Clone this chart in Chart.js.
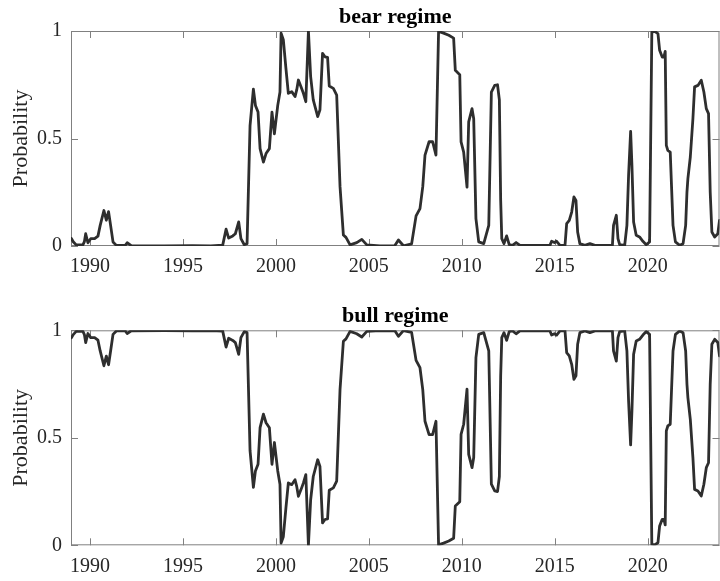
<!DOCTYPE html>
<html>
<head>
<meta charset="utf-8">
<title>Regime probabilities</title>
<script src="https://cdn.jsdelivr.net/npm/chart.js@4.4.0/dist/chart.umd.min.js"></script>
<style>
  html, body { margin: 0; padding: 0; background: #fff; }
  #wrap { position: relative; width: 720px; height: 581px; }
  canvas { position: absolute; left: 0; }
</style>
</head>
<body>
<div id="wrap">
  <canvas id="bearChart" width="720" height="290" style="top:0"></canvas>
  <canvas id="bullChart" width="720" height="291" style="top:290px"></canvas>
</div>
<script>
// --- data (decimal years) ---
const years = [
  1989.00, 1989.10, 1989.26, 1989.62, 1989.70, 1989.77, 1989.89, 1990.04, 1990.25, 1990.43,
  1990.55, 1990.75, 1990.88, 1991.00, 1991.11, 1991.24, 1991.42, 1991.90, 1992.00, 1992.22,
  1994.00, 1995.50, 1996.50, 1997.14, 1997.32, 1997.46, 1997.68, 1997.82, 1998.00, 1998.12,
  1998.30, 1998.45, 1998.61, 1998.79, 1998.90, 1999.04, 1999.15, 1999.33, 1999.47, 1999.65,
  1999.79, 1999.92, 2000.10, 2000.22, 2000.28, 2000.40, 2000.54, 2000.67, 2000.85, 2001.03,
  2001.12, 2001.21, 2001.35, 2001.48, 2001.61, 2001.75, 2001.87, 2002.01, 2002.25, 2002.37,
  2002.51, 2002.64, 2002.78, 2002.87, 2003.09, 2003.27, 2003.45, 2003.63, 2003.77, 2003.99,
  2004.35, 2004.62, 2004.89, 2005.60, 2006.40, 2006.59, 2006.86, 2007.30, 2007.54, 2007.75,
  2007.90, 2008.02, 2008.24, 2008.43, 2008.61, 2008.75, 2009.02, 2009.30, 2009.56, 2009.65,
  2009.89, 2009.96, 2010.10, 2010.28, 2010.37, 2010.55, 2010.64, 2010.76, 2010.91, 2011.18,
  2011.45, 2011.59, 2011.77, 2011.92, 2012.02, 2012.09, 2012.15, 2012.27, 2012.41, 2012.55,
  2012.73, 2012.92, 2013.13, 2014.74, 2014.83, 2014.98, 2015.10, 2015.28, 2015.55, 2015.64,
  2015.78, 2015.91, 2016.03, 2016.14, 2016.23, 2016.35, 2016.62, 2016.89, 2017.16, 2018.10,
  2018.16, 2018.31, 2018.40, 2018.49, 2018.76, 2018.88, 2018.97, 2019.08, 2019.15, 2019.24,
  2019.38, 2019.56, 2019.74, 2019.92, 2020.10, 2020.22, 2020.37, 2020.55, 2020.64, 2020.78,
  2020.87, 2020.94, 2021.00, 2021.08, 2021.21, 2021.36, 2021.49, 2021.72, 2021.90, 2022.04,
  2022.11, 2022.16, 2022.29, 2022.43, 2022.52, 2022.70, 2022.88, 2023.02, 2023.15, 2023.27,
  2023.36, 2023.45, 2023.60, 2023.77, 2023.86
];

const bearProb = [
  0.035, 0.02, 0.005, 0.005, 0.02, 0.057, 0.015, 0.034, 0.034, 0.046,
  0.096, 0.165, 0.12, 0.16, 0.096, 0.019, 0.003, 0.003, 0.015, 0.002,
  0.001, 0.002, 0.001, 0.004, 0.078, 0.037, 0.047, 0.057, 0.112, 0.034,
  0.006, 0.011, 0.56, 0.73, 0.654, 0.623, 0.453, 0.39, 0.43, 0.453,
  0.623, 0.522, 0.654, 0.716, 0.99, 0.96, 0.826, 0.71, 0.718, 0.695,
  0.726, 0.772, 0.741, 0.71, 0.671, 1.0, 0.788, 0.68, 0.602, 0.633,
  0.896, 0.88, 0.877, 0.744, 0.733, 0.702, 0.276, 0.051, 0.040, 0.005,
  0.016, 0.031, 0.005, 0.001, 0.002, 0.028, 0.001, 0.01, 0.14, 0.174,
  0.276, 0.423, 0.485, 0.485, 0.423, 0.998, 0.99, 0.98, 0.967, 0.817,
  0.797, 0.484, 0.437, 0.274, 0.577, 0.639, 0.592, 0.127, 0.019, 0.011,
  0.096, 0.716, 0.747, 0.75, 0.68, 0.214, 0.034, 0.011, 0.047, 0.006,
  0.003, 0.016, 0.003, 0.003, 0.022, 0.016, 0.022, 0.003, 0.003, 0.104,
  0.119, 0.158, 0.228, 0.212, 0.065, 0.011, 0.003, 0.011, 0.003, 0.003,
  0.096, 0.143, 0.034, 0.006, 0.003, 0.096, 0.329, 0.533, 0.375, 0.112,
  0.05, 0.042, 0.022, 0.006, 0.019, 0.995, 0.998, 0.988, 0.91, 0.879,
  0.879, 0.905, 0.468, 0.445, 0.437, 0.096, 0.019, 0.003, 0.011, 0.096,
  0.251, 0.313, 0.414, 0.592, 0.74, 0.747, 0.771, 0.716, 0.639, 0.616,
  0.251, 0.065, 0.042, 0.057, 0.119
];

const bullProb = [
  0.965, 0.98, 0.995, 0.995, 0.98, 0.943, 0.985, 0.966, 0.966, 0.954,
  0.904, 0.835, 0.88, 0.84, 0.904, 0.981, 0.997, 0.997, 0.985, 0.998,
  0.999, 0.998, 0.999, 0.996, 0.922, 0.963, 0.953, 0.943, 0.888, 0.966,
  0.994, 0.989, 0.44, 0.27, 0.346, 0.377, 0.547, 0.61, 0.57, 0.547,
  0.377, 0.478, 0.346, 0.284, 0.01, 0.04, 0.174, 0.29, 0.282, 0.305,
  0.274, 0.228, 0.259, 0.29, 0.329, 0.0, 0.212, 0.32, 0.398, 0.367,
  0.104, 0.12, 0.123, 0.256, 0.267, 0.298, 0.724, 0.949, 0.96, 0.995,
  0.984, 0.969, 0.995, 0.999, 0.998, 0.972, 0.999, 0.99, 0.86, 0.826,
  0.724, 0.577, 0.515, 0.515, 0.577, 0.002, 0.01, 0.02, 0.033, 0.183,
  0.203, 0.516, 0.563, 0.726, 0.423, 0.361, 0.408, 0.873, 0.981, 0.989,
  0.904, 0.284, 0.253, 0.25, 0.32, 0.786, 0.966, 0.989, 0.953, 0.994,
  0.997, 0.984, 0.997, 0.997, 0.978, 0.984, 0.978, 0.997, 0.997, 0.896,
  0.881, 0.842, 0.772, 0.788, 0.935, 0.989, 0.997, 0.989, 0.997, 0.997,
  0.904, 0.857, 0.966, 0.994, 0.997, 0.904, 0.671, 0.467, 0.625, 0.888,
  0.95, 0.958, 0.978, 0.994, 0.981, 0.005, 0.002, 0.012, 0.09, 0.121,
  0.121, 0.095, 0.532, 0.555, 0.563, 0.904, 0.981, 0.997, 0.989, 0.904,
  0.749, 0.687, 0.586, 0.408, 0.26, 0.253, 0.229, 0.284, 0.361, 0.384,
  0.749, 0.935, 0.958, 0.943, 0.881
];

const xTicks = [1990, 1995, 2000, 2005, 2010, 2015, 2020];
const yTicks = [0, 0.5, 1];
const X_MIN = 1988.98;
const X_MAX = 2023.86;

const SERIF = '"Liberation Serif", "Times New Roman", serif';
const AXIS_GREY = '#808080';
const TEXT = '#262626';
const LINE = '#2e2e2e';
const TICK_LEN = 7;

// MATLAB style frame: box, inward ticks on all four sides, title, y label
const matlabAxes = {
  id: 'matlabAxes',
  beforeDatasetsDraw(chart) {
    const { ctx, chartArea: a, scales: { x, y } } = chart;
    ctx.save();
    ctx.strokeStyle = AXIS_GREY;
    ctx.lineWidth = 1;
    ctx.strokeRect(a.left + 0.5, a.top + 0.5, a.right - a.left - 1, a.bottom - a.top - 1);
    ctx.beginPath();
    xTicks.forEach(v => {
      const px = Math.round(x.getPixelForValue(v)) + 0.5;
      ctx.moveTo(px, a.bottom);
      ctx.lineTo(px, a.bottom - TICK_LEN);
      ctx.moveTo(px, a.top);
      ctx.lineTo(px, a.top + TICK_LEN);
    });
    yTicks.forEach(v => {
      const py = Math.round(y.getPixelForValue(v)) + 0.5;
      ctx.moveTo(a.left, py);
      ctx.lineTo(a.left + TICK_LEN, py);
      ctx.moveTo(a.right, py);
      ctx.lineTo(a.right - TICK_LEN, py);
    });
    ctx.stroke();
    ctx.restore();
  },
  afterDraw(chart, args, opts) {
    const { ctx, chartArea: a } = chart;
    ctx.save();
    ctx.fillStyle = '#000';
    ctx.font = 'bold 22px ' + SERIF;
    ctx.textAlign = 'center';
    ctx.textBaseline = 'alphabetic';
    ctx.fillText(opts.title, (a.left + a.right) / 2, a.top - 8.3);

    ctx.fillStyle = TEXT;
    ctx.font = '22px ' + SERIF;
    ctx.translate(26.5, (a.top + a.bottom) / 2);
    ctx.rotate(-Math.PI / 2);
    ctx.fillText('Probability', 0, 0);
    ctx.restore();
  }
};

function makeChart(id, values, title, padTop, xAxisHeight) {
  const points = years.map((yr, i) => ({ x: yr, y: values[i] }));
  return new Chart(document.getElementById(id), {
    type: 'line',
    data: {
      datasets: [{
        data: points,
        borderColor: LINE,
        borderWidth: 2.8,
        borderJoinStyle: 'round',
        borderCapStyle: 'round',
        pointRadius: 0,
        tension: 0,
        fill: false
      }]
    },
    options: {
      responsive: false,
      animation: false,
      devicePixelRatio: 1,
      layout: { padding: { top: padTop, left: 0, right: 0.5, bottom: 0 } },
      plugins: {
        legend: { display: false },
        tooltip: { enabled: false },
        matlabAxes: { title: title }
      },
      scales: {
        x: {
          type: 'linear',
          min: X_MIN,
          max: X_MAX,
          grid: { display: false, drawTicks: false },
          border: { display: false },
          afterBuildTicks: s => { s.ticks = xTicks.map(v => ({ value: v })); },
          afterFit: s => { s.height = xAxisHeight; },
          ticks: {
            maxRotation: 0,
            autoSkip: false,
            padding: 9,
            color: TEXT,
            font: { family: SERIF, size: 20 },
            callback: v => String(v)
          }
        },
        y: {
          min: 0,
          max: 1,
          grid: { display: false, drawTicks: false },
          border: { display: false },
          afterBuildTicks: s => { s.ticks = yTicks.map(v => ({ value: v })); },
          afterFit: s => { s.width = 71; },
          ticks: {
            padding: 9,
            color: TEXT,
            font: { family: SERIF, size: 20 },
            callback: v => String(v)
          }
        }
      }
    },
    plugins: [matlabAxes]
  });
}

makeChart('bearChart', bearProb, 'bear regime', 31, 44);
makeChart('bullChart', bullProb, 'bull regime', 40.3, 35.7);
</script>
</body>
</html>
